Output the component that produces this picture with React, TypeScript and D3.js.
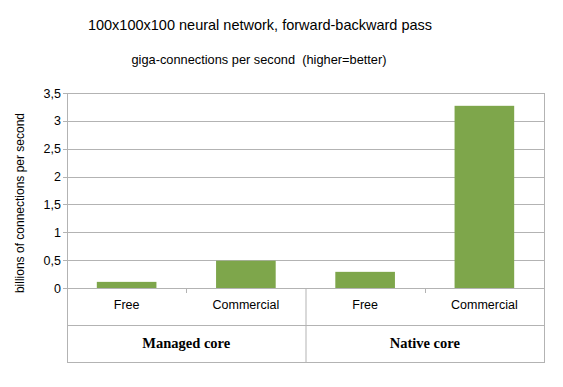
import React from "react";
import * as d3 from "d3";

const groups = ["Managed core", "Native core"];
const categories = ["Free", "Commercial", "Free", "Commercial"];
const values = [0.11, 0.49, 0.29, 3.27];
const yTicks = [0, 0.5, 1, 1.5, 2, 2.5, 3, 3.5];

const W = 563;
const H = 387;
const margin = { top: 93, right: 19, bottom: 99, left: 67 };
const plotBottom = H - margin.bottom; // 288
const catRow = 37;
const grpRow = 37;
const gridColor = "#b3b3b3";
const barColor = "#7ea64b";
const sans = "'Liberation Sans', Arial, sans-serif";
const serif = "'Liberation Serif', 'Times New Roman', serif";

export default function App() {
  const x = d3
    .scaleBand<number>()
    .domain(d3.range(values.length))
    .range([margin.left, W - margin.right])
    .paddingInner(0.5)
    .paddingOuter(0.25);
  const slot = d3
    .scaleBand<number>()
    .domain(d3.range(values.length))
    .range([margin.left, W - margin.right]);
  const y = d3.scaleLinear().domain([0, 3.5]).range([plotBottom, margin.top]);

  const left = margin.left;
  const right = W - margin.right;
  const groupW = (right - left) / groups.length;
  const fmt = (v: number) => String(v).replace(".", ",");

  return (
    <svg width={W} height={H} style={{ position: "absolute", left: 0, top: 0 }}>
      <rect width={W} height={H} fill="#fff" />
      <text x={260} y={30} textAnchor="middle" fontFamily={sans} fontSize={14.5}>
        100x100x100 neural network, forward-backward pass
      </text>
      <text
        x={259}
        y={64}
        textAnchor="middle"
        fontFamily={sans}
        fontSize={12.8}
        style={{ whiteSpace: "pre" }}
      >
        {"giga-connections per second  (higher=better)"}
      </text>

      {/* grid */}
      {yTicks.map((t) => (
        <g key={t}>
          <line
            x1={left - 4}
            x2={right}
            y1={Math.round(y(t)) + 0.5}
            y2={Math.round(y(t)) + 0.5}
            stroke={gridColor}
          />
          <text
            x={left - 6}
            y={y(t) + 4.5}
            textAnchor="end"
            fontFamily={sans}
            fontSize={12.5}
          >
            {fmt(t)}
          </text>
        </g>
      ))}
      <line x1={right + 0.5} x2={right + 0.5} y1={margin.top} y2={plotBottom} stroke={gridColor} />
      <line x1={left + 0.5} x2={left + 0.5} y1={margin.top} y2={plotBottom + catRow + grpRow} stroke={gridColor} />

      {/* bars */}
      {values.map((v, i) => (
        <rect
          key={i}
          x={x(i)}
          y={y(v)}
          width={x.bandwidth()}
          height={plotBottom - y(v)}
          fill={barColor}
        />
      ))}

      {/* category table */}
      {categories.map((c, i) => (
        <text
          key={i}
          x={(slot(i) as number) + slot.bandwidth() / 2}
          y={plotBottom + 21}
          textAnchor="middle"
          fontFamily={sans}
          fontSize={12.5}
        >
          {c}
        </text>
      ))}
      {[1, 3].map((i) => (
        <line
          key={i}
          x1={Math.round(slot(i) as number) + 0.5}
          x2={Math.round(slot(i) as number) + 0.5}
          y1={plotBottom}
          y2={plotBottom + 5}
          stroke={gridColor}
        />
      ))}
      <line
        x1={left + groupW + 0.5}
        x2={left + groupW + 0.5}
        y1={plotBottom}
        y2={plotBottom + catRow + grpRow}
        stroke={gridColor}
      />
      <line
        x1={right + 0.5}
        x2={right + 0.5}
        y1={plotBottom}
        y2={plotBottom + catRow + grpRow}
        stroke={gridColor}
      />
      <line x1={left} x2={right} y1={plotBottom + catRow + 0.5} y2={plotBottom + catRow + 0.5} stroke={gridColor} />
      <line
        x1={left}
        x2={right + 1}
        y1={plotBottom + catRow + grpRow + 0.5}
        y2={plotBottom + catRow + grpRow + 0.5}
        stroke={gridColor}
      />
      {groups.map((g, i) => (
        <text
          key={g}
          x={left + groupW * (i + 0.5)}
          y={plotBottom + catRow + 23}
          textAnchor="middle"
          fontFamily={serif}
          fontWeight="bold"
          fontSize={14.5}
        >
          {g}
        </text>
      ))}

      <text
        transform={`translate(24,203) rotate(-90)`}
        textAnchor="middle"
        fontFamily={sans}
        fontSize={12}
      >
        billions of connections per second
      </text>
    </svg>
  );
}
